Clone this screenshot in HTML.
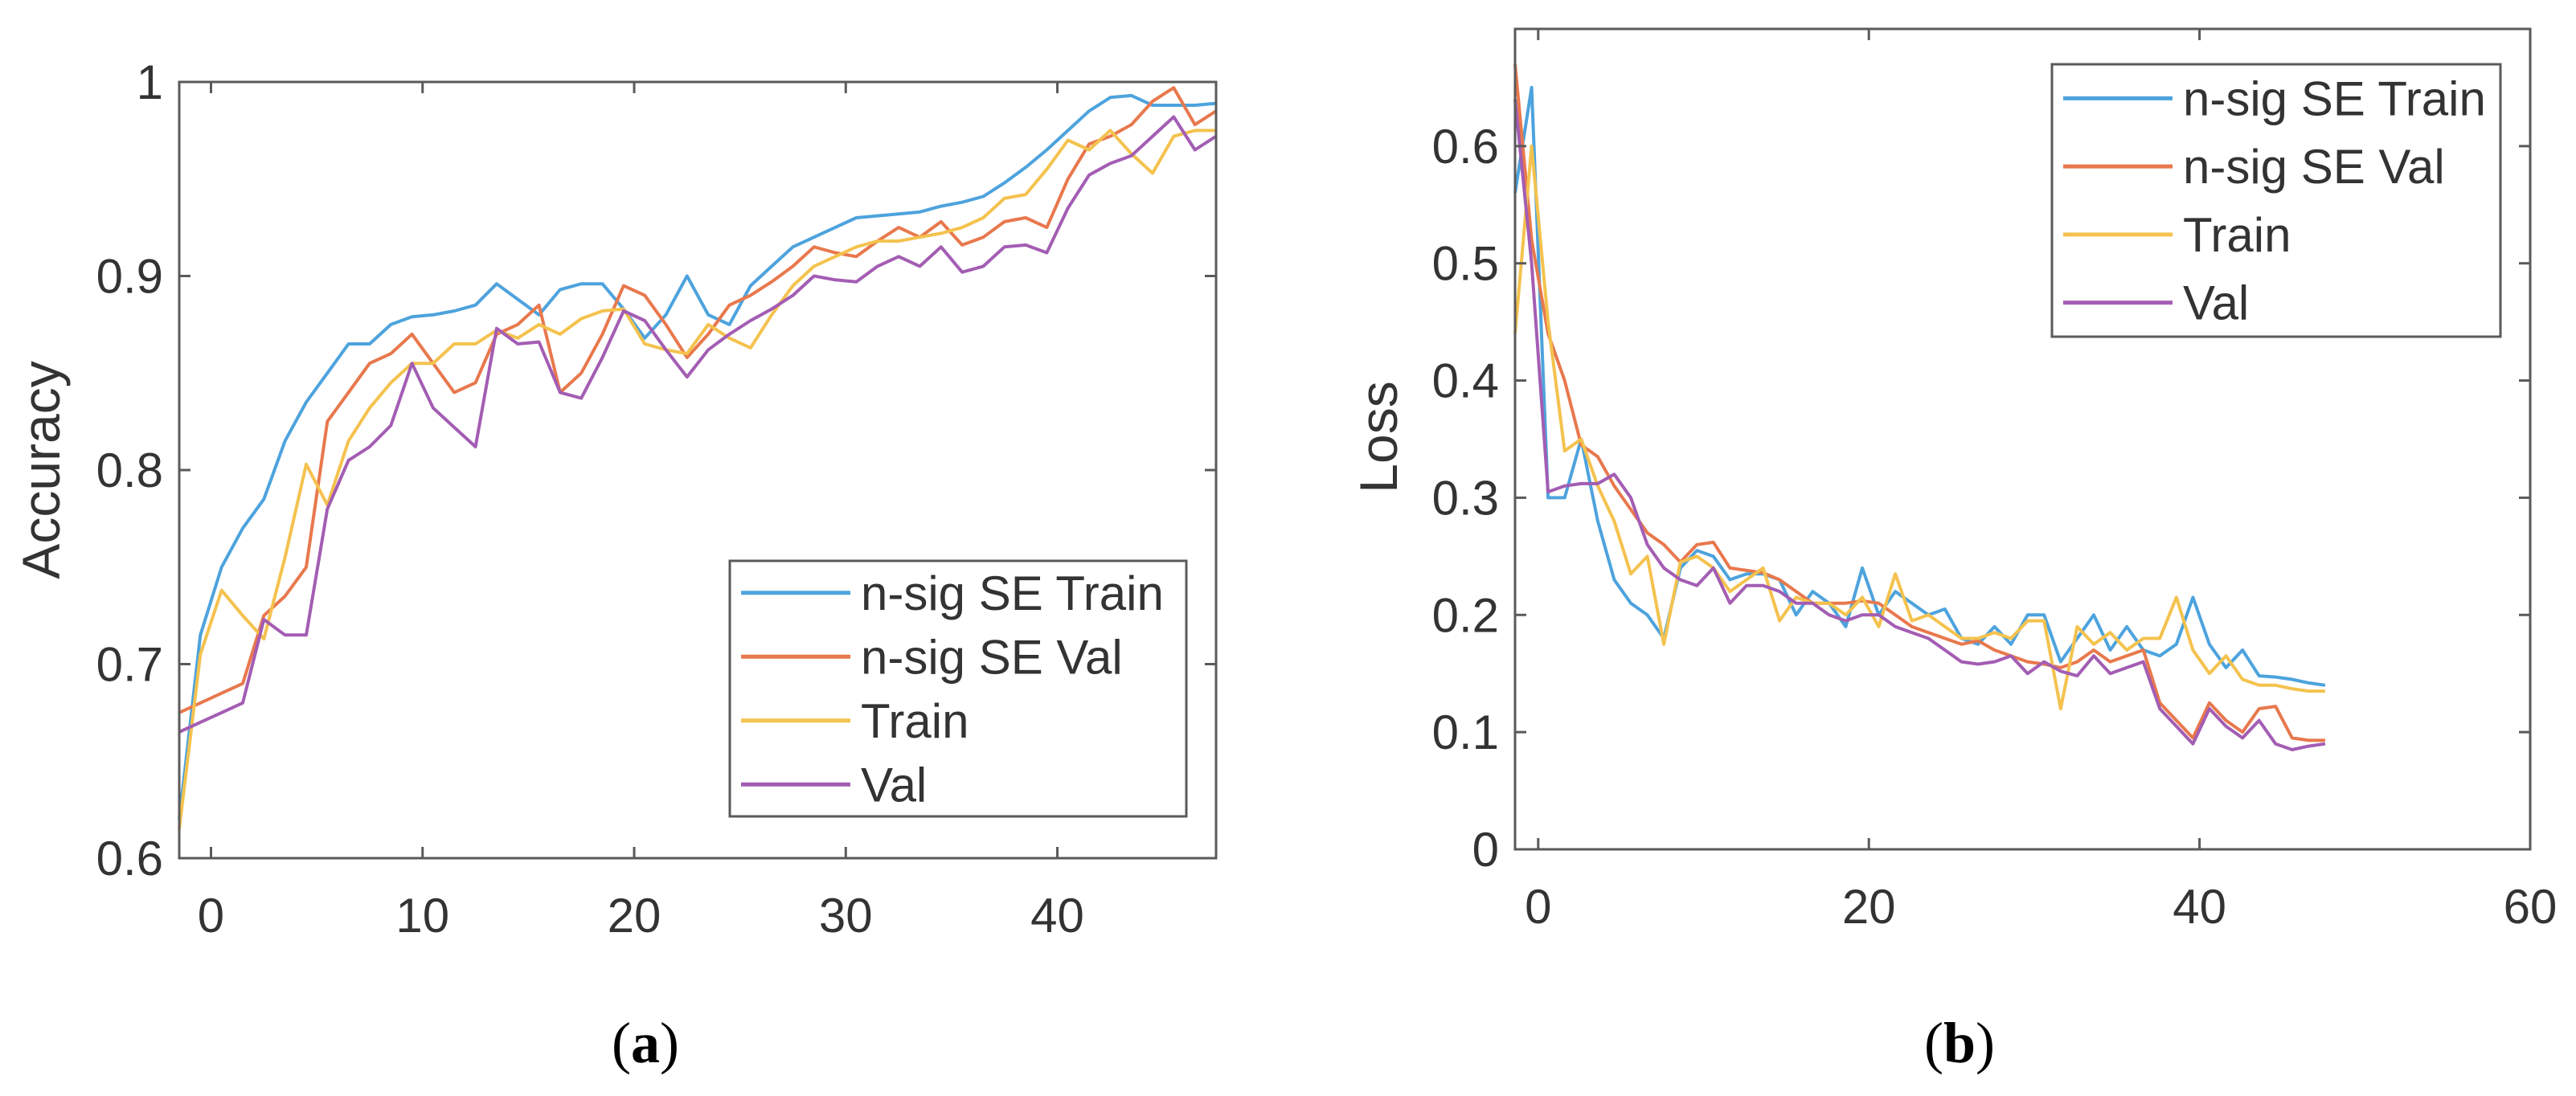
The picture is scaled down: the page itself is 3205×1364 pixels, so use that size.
<!DOCTYPE html>
<html><head><meta charset="utf-8"><style>
html,body{margin:0;padding:0;background:#fff}
svg{display:block}
text{font-family:"Liberation Sans",sans-serif;fill:#333}
</style></head><body>
<svg id="fig" width="3205" height="1364" viewBox="0 0 3205 1364" xmlns="http://www.w3.org/2000/svg"></svg>
<script>
// ---- Chart (a) data ----
const accTicksX = [0,10,20,30,40];
const accTicksY = [0.6,0.7,0.8,0.9,1];
const accTickLabelsY = ["0.6","0.7","0.8","0.9","1"];
const accX0 = -1.5;
const accSeTrain = [0.62,0.715,0.75,0.77,0.785,0.815,0.835,0.85,0.865,0.865,0.875,0.879,0.88,0.882,0.885,0.896,0.888,0.88,0.893,0.896,0.896,0.883,0.868,0.88,0.9,0.88,0.875,0.895,0.905,0.915,0.92,0.925,0.93,0.931,0.932,0.933,0.936,0.938,0.941,0.948,0.956,0.965,0.975,0.985,0.992,0.993,0.988,0.988,0.988,0.989];
const accSeVal = [0.675,0.68,0.685,0.69,0.725,0.735,0.75,0.825,0.84,0.855,0.86,0.87,0.855,0.84,0.845,0.87,0.875,0.885,0.84,0.85,0.87,0.895,0.89,0.875,0.858,0.87,0.885,0.89,0.897,0.905,0.915,0.912,0.91,0.918,0.925,0.92,0.928,0.916,0.92,0.928,0.93,0.925,0.95,0.968,0.972,0.978,0.99,0.997,0.978,0.985];
const accTrain = [0.615,0.705,0.738,0.725,0.713,0.755,0.803,0.782,0.815,0.832,0.845,0.855,0.855,0.865,0.865,0.872,0.868,0.875,0.87,0.878,0.882,0.883,0.865,0.862,0.86,0.875,0.868,0.863,0.88,0.895,0.905,0.91,0.915,0.918,0.918,0.92,0.922,0.925,0.93,0.94,0.942,0.955,0.97,0.965,0.975,0.963,0.953,0.972,0.975,0.975];
const accVal = [0.665,0.67,0.675,0.68,0.723,0.715,0.715,0.78,0.805,0.812,0.823,0.855,0.832,0.822,0.812,0.873,0.865,0.866,0.84,0.837,0.858,0.882,0.877,0.862,0.848,0.862,0.87,0.877,0.883,0.89,0.9,0.898,0.897,0.905,0.91,0.905,0.915,0.902,0.905,0.915,0.916,0.912,0.935,0.952,0.958,0.962,0.972,0.982,0.965,0.972];
// ---- Chart (b) data ----
const lossTicksX = [0,20,40,60];
const lossTicksY = [0,0.1,0.2,0.3,0.4,0.5,0.6];
const lossTickLabelsY = ["0","0.1","0.2","0.3","0.4","0.5","0.6"];
const lossX0 = -1.4;
const lossSeTrain = [0.56,0.65,0.30,0.30,0.35,0.28,0.23,0.21,0.20,0.18,0.24,0.255,0.25,0.23,0.235,0.235,0.23,0.20,0.22,0.21,0.19,0.24,0.20,0.22,0.21,0.20,0.205,0.18,0.175,0.19,0.175,0.20,0.20,0.16,0.18,0.20,0.17,0.19,0.17,0.165,0.175,0.215,0.175,0.155,0.17,0.148,0.147,0.145,0.142,0.14];
const lossSeVal = [0.67,0.52,0.44,0.40,0.345,0.335,0.31,0.29,0.27,0.26,0.245,0.26,0.262,0.24,0.238,0.236,0.23,0.22,0.21,0.21,0.21,0.212,0.21,0.20,0.19,0.185,0.18,0.175,0.178,0.17,0.165,0.16,0.158,0.155,0.16,0.17,0.16,0.165,0.17,0.125,0.11,0.095,0.125,0.11,0.10,0.12,0.122,0.095,0.093,0.093];
const lossTrain = [0.44,0.60,0.45,0.34,0.35,0.31,0.28,0.235,0.25,0.175,0.245,0.25,0.24,0.22,0.23,0.24,0.195,0.215,0.21,0.21,0.20,0.215,0.19,0.235,0.195,0.20,0.19,0.18,0.18,0.185,0.18,0.195,0.195,0.12,0.19,0.175,0.185,0.17,0.18,0.18,0.215,0.17,0.15,0.165,0.145,0.14,0.14,0.137,0.135,0.135];
const lossVal = [0.64,0.50,0.305,0.31,0.312,0.312,0.32,0.30,0.26,0.24,0.23,0.225,0.24,0.21,0.225,0.225,0.22,0.21,0.21,0.20,0.195,0.20,0.20,0.19,0.185,0.18,0.17,0.16,0.158,0.16,0.165,0.15,0.16,0.152,0.148,0.165,0.15,0.155,0.16,0.12,0.105,0.09,0.12,0.105,0.095,0.11,0.09,0.085,0.088,0.09];
const legendLabels = ["n-sig SE Train","n-sig SE Val","Train","Val"];

const NS="http://www.w3.org/2000/svg";
const svg=document.getElementById('fig');
const colors=["#4da3dd","#e8784d","#f4c24e","#a35db3"];
function mk(tag,attrs,parent){const e=document.createElementNS(NS,tag);for(const k in attrs)e.setAttribute(k,attrs[k]);(parent||svg).appendChild(e);return e;}

function chart(cfg){
  const g=mk('g',{});
  
  
  const sx=v=>cfg.L+(v-cfg.xmin)/(cfg.xmax-cfg.xmin)*(cfg.R-cfg.L);
  const sy=v=>cfg.B-(v-cfg.ymin)/(cfg.ymax-cfg.ymin)*(cfg.B-cfg.T);
  cfg.series.forEach((s,si)=>{
    const pts=s.map((v,i)=>sx(cfg.x0+i).toFixed(1)+','+sy(v).toFixed(1)).join(' ');
    const pl=mk('polyline',{points:pts,fill:'none',stroke:colors[si],'stroke-width':4,'stroke-linejoin':'round'},g);
    
    
  });
  const box=mk('rect',{x:cfg.L,y:cfg.T,width:cfg.R-cfg.L,height:cfg.B-cfg.T,fill:'none',stroke:'#5a5a5a','stroke-width':3},g);
  
  
  cfg.xt.forEach(v=>{
    const x=sx(v);
    mk('line',{x1:x,y1:cfg.B,x2:x,y2:cfg.B-14,stroke:'#5a5a5a','stroke-width':3},g);
    mk('line',{x1:x,y1:cfg.T,x2:x,y2:cfg.T+14,stroke:'#5a5a5a','stroke-width':3},g);
    const t=mk('text',{x:x,y:cfg.B+92,'font-size':60,'text-anchor':'middle'},g);
    t.textContent=String(v);
    
    
  });
  cfg.yt.forEach((v,i)=>{
    const y=sy(v);
    mk('line',{x1:cfg.L,y1:y,x2:cfg.L+14,y2:y,stroke:'#5a5a5a','stroke-width':3},g);
    mk('line',{x1:cfg.R,y1:y,x2:cfg.R-14,y2:y,stroke:'#5a5a5a','stroke-width':3},g);
    const t=mk('text',{x:cfg.L-20,y:y+21,'font-size':60,'text-anchor':'end'},g);
    t.textContent=cfg.ytl[i];
    
    
  });
  const yl=mk('text',{x:0,y:0,'font-size':66,'text-anchor':'middle',transform:`translate(${cfg.ylx},${cfg.yly}) rotate(-90)`},g);
  yl.textContent=cfg.ylabel;
  
  
  const lg=mk('g',{},g);
  
  
  mk('rect',{x:cfg.lx,y:cfg.ly,width:cfg.lw,height:cfg.lh,fill:'#fff',stroke:'#5a5a5a','stroke-width':3},lg);
  legendLabels.forEach((lab,i)=>{
    const cy=cfg.ly+cfg.lh*(i+0.5)/4;
    const e=mk('g',{},lg);
    
    
    mk('line',{x1:cfg.lx+14,y1:cy,x2:cfg.lx+150,y2:cy,stroke:colors[i],'stroke-width':5},e);
    const t=mk('text',{x:cfg.lx+163,y:cy+21,'font-size':60},e);
    t.textContent=lab;
  });
  const cap=mk('text',{x:cfg.capx,y:1322,'font-size':72,'text-anchor':'middle',style:'font-family:"Liberation Serif",serif;fill:#000'},svg);
  cap.innerHTML='(<tspan font-weight="bold">'+cfg.cap+'</tspan>)';
  
  
}

chart({name:'accuracy-chart',L:223,R:1513,T:102,B:1068,xmin:-1.5,xmax:47.5,ymin:0.6,ymax:1.0,x0:accX0,
  series:[accSeTrain,accSeVal,accTrain,accVal],xt:accTicksX,yt:accTicksY,ytl:accTickLabelsY,
  ylabel:'Accuracy',ylx:74,yly:585,lx:908,ly:698,lw:568,lh:318,capx:803,cap:'a'});
chart({name:'loss-chart',L:1885,R:3148,T:36,B:1057,xmin:-1.4,xmax:60,ymin:0,ymax:0.7,x0:lossX0,
  series:[lossSeTrain,lossSeVal,lossTrain,lossVal],xt:lossTicksX,yt:lossTicksY,ytl:lossTickLabelsY,
  ylabel:'Loss',ylx:1738,yly:544,lx:2553,ly:80,lw:558,lh:339,capx:2438,cap:'b'});
</script>
</body></html>
